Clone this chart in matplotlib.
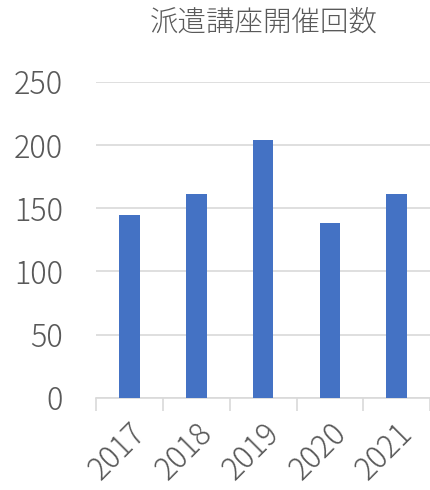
import matplotlib
matplotlib.use('Agg')
import matplotlib.pyplot as plt

plt.rcParams['font.family'] = ['Noto Sans CJK JP', 'DejaVu Sans']

years = ['2017', '2018', '2019', '2020', '2021']
counts = [145, 161, 204, 138, 161]
yticks = [0, 50, 100, 150, 200, 250]

text_color = '#595959'
bar_color = '#4472C4'
grid_color = '#D9D9D9'

fig = plt.figure(figsize=(4.31, 4.90), dpi=100)
ax = fig.add_axes([0.223, 0.188, 0.775, 0.645])

x = list(range(len(years)))
ax.bar(x, counts, width=0.31, color=bar_color, zorder=3)

ax.set_xlim(-0.5, len(years) - 0.5)
ax.set_ylim(0, 250)
ax.set_yticks(yticks)
ax.yaxis.grid(True, color=grid_color, linewidth=1.2, zorder=0)
ax.tick_params(axis='y', length=0, labelsize=22, labelcolor=text_color, pad=24)
for lab in ax.get_yticklabels():
    lab.set_fontweight('light')

# category boundaries as tick marks, labels at centres
ax.set_xticks([i - 0.5 for i in range(len(years) + 1)])
ax.set_xticklabels([])
ax.set_xticks(x, minor=True)
ax.set_xticklabels(years, minor=True, rotation=45, ha='right', rotation_mode='anchor',
                   fontsize=22, color=text_color, fontweight='light')
ax.tick_params(axis='x', which='major', length=9, color=grid_color, width=1.2)
ax.tick_params(axis='x', which='minor', length=0, pad=14)

for s in ['top', 'right', 'left']:
    ax.spines[s].set_visible(False)
ax.spines['bottom'].set_color(grid_color)
ax.spines['bottom'].set_linewidth(1.2)

fig.text(0.611, 0.955, '派遣講座開催回数', ha='center', va='center', fontsize=20.5,
         color=text_color, fontweight='light')

fig.savefig('out.png', dpi=100)
